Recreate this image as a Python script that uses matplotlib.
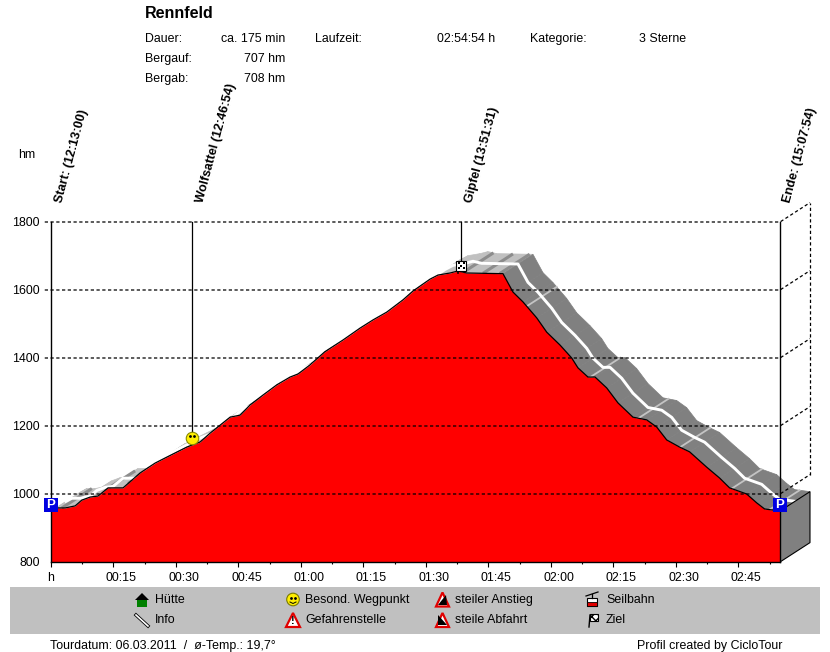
#!/usr/bin/python3

import matplotlib
matplotlib.use('Agg')
import matplotlib.pyplot as plt
from matplotlib.patches import Polygon, Rectangle, Circle
from matplotlib.transforms import ScaledTranslation

plt.rcParams['font.family'] = ['Liberation Sans', 'DejaVu Sans']

# profile: minutes since start / altitude in hm
minutes = [0, 1.4, 3.4, 5.8, 7.4, 9.4, 11.3, 13.7, 17.3, 21.4, 25.0, 27.4, 32.6, 35.8, 38.2, 43.0, 45.4,
           47.8, 50.9, 54.2, 57.4, 59.3, 62.1, 65.7, 70.1, 74.2, 77.3, 80.6, 84.5, 86.9, 91.0, 92.9,
           95.8, 97.7, 99.8, 108.5, 110.9, 113.3, 116.6, 119.0, 122.2, 125.0, 126.5, 128.9, 130.6,
           133.4, 136.1, 139.7, 143.0, 145.4, 147.8, 150.9, 153.3, 157.4, 160.5, 162.9, 167.0, 169.4,
           171.3, 175.0]
altitude = [950, 959, 959, 965, 982, 991, 994, 1018, 1018, 1062, 1091, 1106, 1138, 1153, 1179, 1226, 1232,
            1262, 1291, 1321, 1344, 1353, 1379, 1418, 1453, 1488, 1512, 1535, 1571, 1597, 1632, 1644,
            1650, 1656, 1650, 1648, 1594, 1565, 1518, 1476, 1438, 1400, 1371, 1344, 1344,
            1312, 1268, 1226, 1218, 1197, 1159, 1138, 1124, 1079, 1047, 1018, 1000, 974,
            956, 950]

light_stripes = [114.2, 129.5, 141.0, 151.0, 163.4, 172.5]
dark_stripes = [2.6, 13.0, 18.5, 99.0, 103.7, 107.7]

waypoint_names = ['Start: (12:13:00)', 'Wolfsattel (12:46:54)', 'Gipfel (13:51:31)', 'Ende: (15:07:54)']
waypoint_times = [0, 33.9, 98.5, 174.9]
waypoint_alts = [950, 1165, 1676, 950]

time_ticks = [0, 15, 30, 45, 60, 75, 90, 105, 120, 135, 150, 165]
time_labels = ['h', '00:15', '00:30', '00:45', '01:00', '01:15', '01:30', '01:45', '02:00', '02:15', '02:30', '02:45']
alt_ticks = [800, 1000, 1200, 1400, 1600, 1800]

# depth of the fake 3d ribbon in data units
depth_t = 7.2
depth_h = 57

W, H = 830, 652
fig = plt.figure(figsize=(W / 100, H / 100), dpi=100)
ax = fig.add_axes([51 / W, (H - 562) / H, 729 / W, 340 / H])
ax.set_xlim(0, 175)
ax.set_ylim(800, 1800)
ax.spines['top'].set_visible(False)
for s in ['left', 'right', 'bottom']:
    ax.spines[s].set_linewidth(1)
    ax.spines[s].set_zorder(8)


def shade(i):
    return '#c0c0c0' if minutes[i] < 108 else '#808080'


def alt_at(t):
    for i in range(len(minutes) - 1):
        if minutes[i] <= t <= minutes[i + 1]:
            f = (t - minutes[i]) / (minutes[i + 1] - minutes[i])
            return altitude[i] + f * (altitude[i + 1] - altitude[i])
    return altitude[-1]


# grid and back wall, dashes run over the ribbon and the red area too
dash = (0, (2.6, 2))
for h in alt_ticks[1:]:
    ax.plot([-1.5, 175, 175 + depth_t], [h, h, h + depth_h], color='k', lw=0.9, ls=dash,
            clip_on=False, zorder=7)
ax.plot([175 + depth_t, 175 + depth_t], [1000 + depth_h, 1800 + depth_h], color='k', lw=0.9,
        ls=dash, clip_on=False, zorder=1)

# ribbon
for i in range(len(minutes) - 1):
    quad = [(minutes[i], altitude[i]), (minutes[i + 1], altitude[i + 1]),
            (minutes[i + 1] + depth_t, altitude[i + 1] + depth_h), (minutes[i] + depth_t, altitude[i] + depth_h)]
    ax.add_patch(Polygon(quad, closed=True, fc=shade(i), ec=shade(i), lw=0.5, clip_on=False, zorder=2))
for t in light_stripes:
    a = alt_at(t)
    ax.plot([t, t + depth_t], [a, a + depth_h], color='#c4c4c4', lw=1.3, clip_on=False, zorder=3)
for t in dark_stripes:
    a = alt_at(t)
    ax.plot([t, t + depth_t], [a, a + depth_h], color='#8c8c8c', lw=2.2, clip_on=False, zorder=3,
            solid_capstyle='butt')
ax.plot([t + depth_t / 2 for t in minutes], [a + depth_h / 2 for a in altitude], color='white', lw=2.1,
        clip_on=False, zorder=4)

# right face of the block
ax.add_patch(Polygon([(175, 800), (175 + depth_t, 800 + depth_h), (175 + depth_t, altitude[-1] + depth_h),
                      (175, altitude[-1])], closed=True, fc='#808080', ec='k', lw=0.8, clip_on=False, zorder=5))

# profile
ax.fill_between(minutes, 800, altitude, color='#ff0000', lw=0, zorder=6)
ax.plot(minutes, altitude, color='k', lw=0.9, zorder=7)

# ticks
ax.set_xticks(time_ticks)
ax.set_xticklabels(time_labels, fontsize=8.9)
ax.set_xticks([t + 7.5 for t in time_ticks], minor=True)
ax.tick_params(axis='x', which='major', length=3.5, width=0.8, pad=4)
ax.tick_params(axis='x', which='minor', length=1.5, width=0.8)
shift = ScaledTranslation(8 / 100, 0, fig.dpi_scale_trans)
for lab in ax.get_xticklabels()[1:]:
    lab.set_transform(lab.get_transform() + shift)
ax.set_yticks(alt_ticks)
ax.set_yticklabels(alt_ticks, fontsize=8.9)
ax.tick_params(axis='y', length=0, pad=8)

# waypoints
for name, t, a in zip(waypoint_names, waypoint_times, waypoint_alts):
    if 0 < t < 174:
        ax.plot([t, t], [a, 1800], color='k', lw=0.9, zorder=9, clip_on=False)
    ax.annotate(name, xy=(t, 1800), xytext=(8, 20), textcoords='offset pixels', rotation=75,
                rotation_mode='anchor', ha='left', va='center', fontsize=9.1, fontweight='bold',
                annotation_clip=False)

for t in [waypoint_times[0], waypoint_times[3]]:
    ax.plot(t, 968, marker='s', ms=10.2, color='#0000e0', clip_on=False, zorder=10, mew=0)
    ax.text(t, 968, 'P', color='white', fontsize=9.5, fontweight='bold', ha='center', va='center', zorder=11)
ax.plot(waypoint_times[1], waypoint_alts[1], marker='o', ms=9, mfc='#ffee00', mec='#8a8a00', mew=0.8,
        clip_on=False, zorder=10)
ax.plot(waypoint_times[1] - 0.5, waypoint_alts[1] + 5, marker='.', ms=2, color='k', zorder=11)
ax.plot(waypoint_times[1] + 0.5, waypoint_alts[1] + 5, marker='.', ms=2, color='k', zorder=11)

# flag on the summit
ft, fa = waypoint_times[2], waypoint_alts[2]
ax.plot([ft - 0.7, ft - 0.7], [fa - 26, fa], color='k', lw=1.2, zorder=10, clip_on=False)
ax.plot(ft, fa - 4, marker='s', ms=7, mfc='white', mec='k', mew=0.8, clip_on=False, zorder=10)
ax.plot([ft - 0.6, ft + 0.6, ft - 0.6, ft + 0.6], [fa - 11, fa - 11, fa + 3, fa + 3], ls='none', marker='s', ms=2,
        color='k', mew=0, zorder=11, clip_on=False)
ax.plot(ft, fa - 4, marker='s', ms=2, color='k', mew=0, zorder=11, clip_on=False)

# page furniture drawn in pixel coordinates
pg = fig.add_axes([0, 0, 1, 1], zorder=-1)
pg.set_xlim(0, W)
pg.set_ylim(H, 0)
pg.axis('off')
pg.add_patch(Rectangle((10, 587), 810, 47, fc='#c0c0c0', ec='none'))
top = fig.add_axes([0, 0, 1, 1], zorder=5)
top.set_xlim(0, W)
top.set_ylim(H, 0)
top.axis('off')
top.patch.set_alpha(0)

fs = 8.9
top.text(145, 17.8, 'Rennfeld', fontsize=11.5, fontweight='bold')
top.text(145, 41.8, 'Dauer:', fontsize=fs)
top.text(285, 41.8, 'ca. 175 min', fontsize=fs, ha='right')
top.text(145, 61.8, 'Bergauf:', fontsize=fs)
top.text(285, 61.8, '707 hm', fontsize=fs, ha='right')
top.text(145, 81.8, 'Bergab:', fontsize=fs)
top.text(285, 81.8, '708 hm', fontsize=fs, ha='right')
top.text(315, 41.8, 'Laufzeit:', fontsize=fs)
top.text(495, 41.8, '02:54:54 h', fontsize=fs, ha='right')
top.text(530, 41.8, 'Kategorie:', fontsize=fs)
top.text(639, 41.8, '3 Sterne', fontsize=fs)
top.text(18, 158, 'hm', fontsize=fs)
top.text(50, 648.8, 'Tourdatum: 06.03.2011  /  ø-Temp.: 19,7°', fontsize=fs)
top.text(637, 648.8, 'Profil created by CicloTour', fontsize=fs)

legend_items = [('Hütte', 155, 602.8), ('Info', 155, 622.8), ('Besond. Wegpunkt', 305, 602.8),
                ('Gefahrenstelle', 305, 622.8), ('steiler Anstieg', 455, 602.8), ('steile Abfahrt', 455, 622.8),
                ('Seilbahn', 606, 602.8), ('Ziel', 606, 622.8)]
for text, x, y in legend_items:
    top.text(x, y, text, fontsize=fs)

# legend icons
top.add_patch(Polygon([(135, 600), (142, 593), (149, 600)], fc='k', ec='none'))
top.add_patch(Rectangle((137, 600), 10, 7, fc='#008000', ec='none'))
top.plot([136, 148], [615, 626], color='k', lw=2.4)
top.plot([136, 148], [615, 626], color='white', lw=1.2)
top.add_patch(Circle((293, 599.5), 6.3, fc='#ffee00', ec='#7a7a00', lw=0.8))
top.plot([291, 295], [598, 598], ls='none', marker='.', ms=2, color='k')
top.plot([290, 293, 296], [602, 603.5, 602], color='k', lw=0.7)
top.add_patch(Polygon([(293, 613), (286, 627), (300, 627)], fc='white', ec='#e00000', lw=1.6))
top.text(293, 621.5, '!', fontsize=8, fontweight='bold', ha='center', va='center')
for cy, pts in [(599.5, [(438, 605), (446, 595), (447, 605)]), (620, [(438, 615), (447, 625), (438, 625)])]:
    top.add_patch(Polygon([(442.5, cy - 7), (436, cy + 7), (449, cy + 7)], fc='white', ec='#e00000', lw=1.6))
    top.add_patch(Polygon(pts, fc='k', ec='none'))
top.add_patch(Rectangle((587, 598), 10, 8, fc='white', ec='k', lw=0.8))
top.add_patch(Rectangle((587, 602), 10, 4, fc='#e00000', ec='k', lw=0.6))
top.plot([586, 598], [596, 592], color='k', lw=0.9)
top.plot([592, 592], [594, 598], color='k', lw=0.9)
top.plot([589, 590], [627, 615], color='k', lw=1)
top.add_patch(Rectangle((590, 614), 8, 7, fc='white', ec='k', lw=0.8, hatch='xxxx'))

fig.savefig('out.png', dpi=100)
